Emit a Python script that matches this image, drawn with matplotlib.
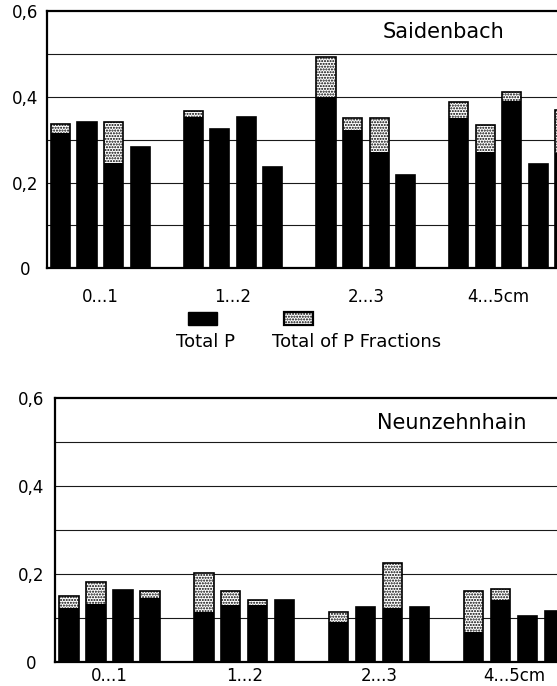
import matplotlib
matplotlib.use("Agg")
import matplotlib.pyplot as plt
import numpy as np

plt.rcParams['font.family'] = ['DejaVu Sans']
plt.rcParams['hatch.linewidth'] = 1.0

groups = ['0...1', '1...2', '2...3', '4...5cm']

# Saidenbach: group index and slot of each bar
sai_group = [0, 0, 0, 0, 1, 1, 1, 1, 2, 2, 2, 2, 3, 3, 3, 3, 3]
sai_slot = [0, 1, 2, 3, 0, 1, 2, 3, 0, 1, 2, 3, 0, 1, 2, 3, 4]
sai_total_p = [0.315, 0.340, 0.245, 0.284, 0.352, 0.326, 0.352, 0.236,
               0.399, 0.323, 0.272, 0.218, 0.350, 0.272, 0.389, 0.243, 0.270]
sai_fractions = [0.337, 0.340, 0.342, 0.284, 0.367, 0.326, 0.352, 0.236,
                 0.493, 0.351, 0.351, 0.218, 0.387, 0.333, 0.410, 0.243, 0.369]

# Neunzehnhain
neu_group = [0, 0, 0, 0, 1, 1, 1, 1, 2, 2, 2, 2, 3, 3, 3, 3]
neu_slot = [0, 1, 2, 3, 0, 1, 2, 3, 0, 1, 2, 3, 0, 1, 2, 3]
neu_total_p = [0.123, 0.131, 0.163, 0.144, 0.114, 0.129, 0.129, 0.141,
               0.090, 0.125, 0.123, 0.125, 0.068, 0.141, 0.103, 0.116]
neu_fractions = [0.150, 0.181, 0.163, 0.160, 0.203, 0.161, 0.141, 0.141,
                 0.114, 0.125, 0.224, 0.125, 0.160, 0.166, 0.103, 0.116]

y_ticks = [0, 0.2, 0.4, 0.6]
y_tick_labels = ['0', '0,2', '0,4', '0,6']

fig = plt.figure(figsize=(5.57, 6.86), dpi=100)


def panel(rect, name, grp, slot, total_p, fractions, xmax, ypad, xpad, title_xy):
    ax = fig.add_axes(rect)
    x = np.array(grp) * 5 + np.array(slot)
    w = 0.72
    ax.bar(x, fractions, width=w, facecolor='white', edgecolor='black',
           hatch='......', linewidth=1.2, zorder=2)
    ax.bar(x, total_p, width=w, color='black', linewidth=0, zorder=3)

    ax.set_ylim(0, 0.6)
    ax.set_xlim(-0.52, xmax)
    for yv in [0.1, 0.2, 0.3, 0.4, 0.5]:
        ax.axhline(yv, color='#1a1a1a', linewidth=0.8, zorder=1)

    ax.set_yticks(y_ticks)
    ax.set_yticklabels(y_tick_labels, fontsize=12)
    for lab in ax.get_yticklabels():
        lab.set_horizontalalignment('center')
    ax.tick_params(axis='y', length=0, pad=ypad)

    ax.set_xticks([5 * g + 1.5 for g in range(len(groups))])
    ax.set_xticklabels(groups, fontsize=12)
    ax.tick_params(axis='x', length=0, pad=xpad)

    for s in ['left', 'bottom', 'top']:
        ax.spines[s].set_linewidth(1.6)
    ax.spines['right'].set_visible(False)

    ax.text(title_xy[0], title_xy[1], name, transform=fig.transFigure,
            ha='center', va='center', fontsize=15)
    return ax


panel([46.7 / 557, 1 - 268.3 / 686, 1 - 46.7 / 557, 257.3 / 686],
      'Saidenbach', sai_group, sai_slot, sai_total_p, sai_fractions,
      18.7, 15.5, 14, (443 / 557, 1 - 31.7 / 686))

panel([55 / 557, 1 - 661.7 / 686, 1 - 55 / 557, 263.4 / 686],
      'Neunzehnhain', neu_group, neu_slot, neu_total_p, neu_fractions,
      18.1, 17, 4, (451.7 / 557, 1 - 423.3 / 686))

# legend
fig.patches.append(plt.Rectangle((188 / 557, 1 - 325 / 686), 29 / 557, 13 / 686,
                                 transform=fig.transFigure, facecolor='black',
                                 edgecolor='black', linewidth=1))
fig.patches.append(plt.Rectangle((284 / 557, 1 - 325 / 686), 29 / 557, 13 / 686,
                                 transform=fig.transFigure, facecolor='white',
                                 edgecolor='black', hatch='......', linewidth=1.6))
fig.text(205 / 557, 1 - 342 / 686, 'Total P', ha='center', va='center', fontsize=13)
fig.text(357 / 557, 1 - 342 / 686, 'Total of P Fractions', ha='center', va='center',
         fontsize=13)

fig.savefig('out.png', dpi=100)
